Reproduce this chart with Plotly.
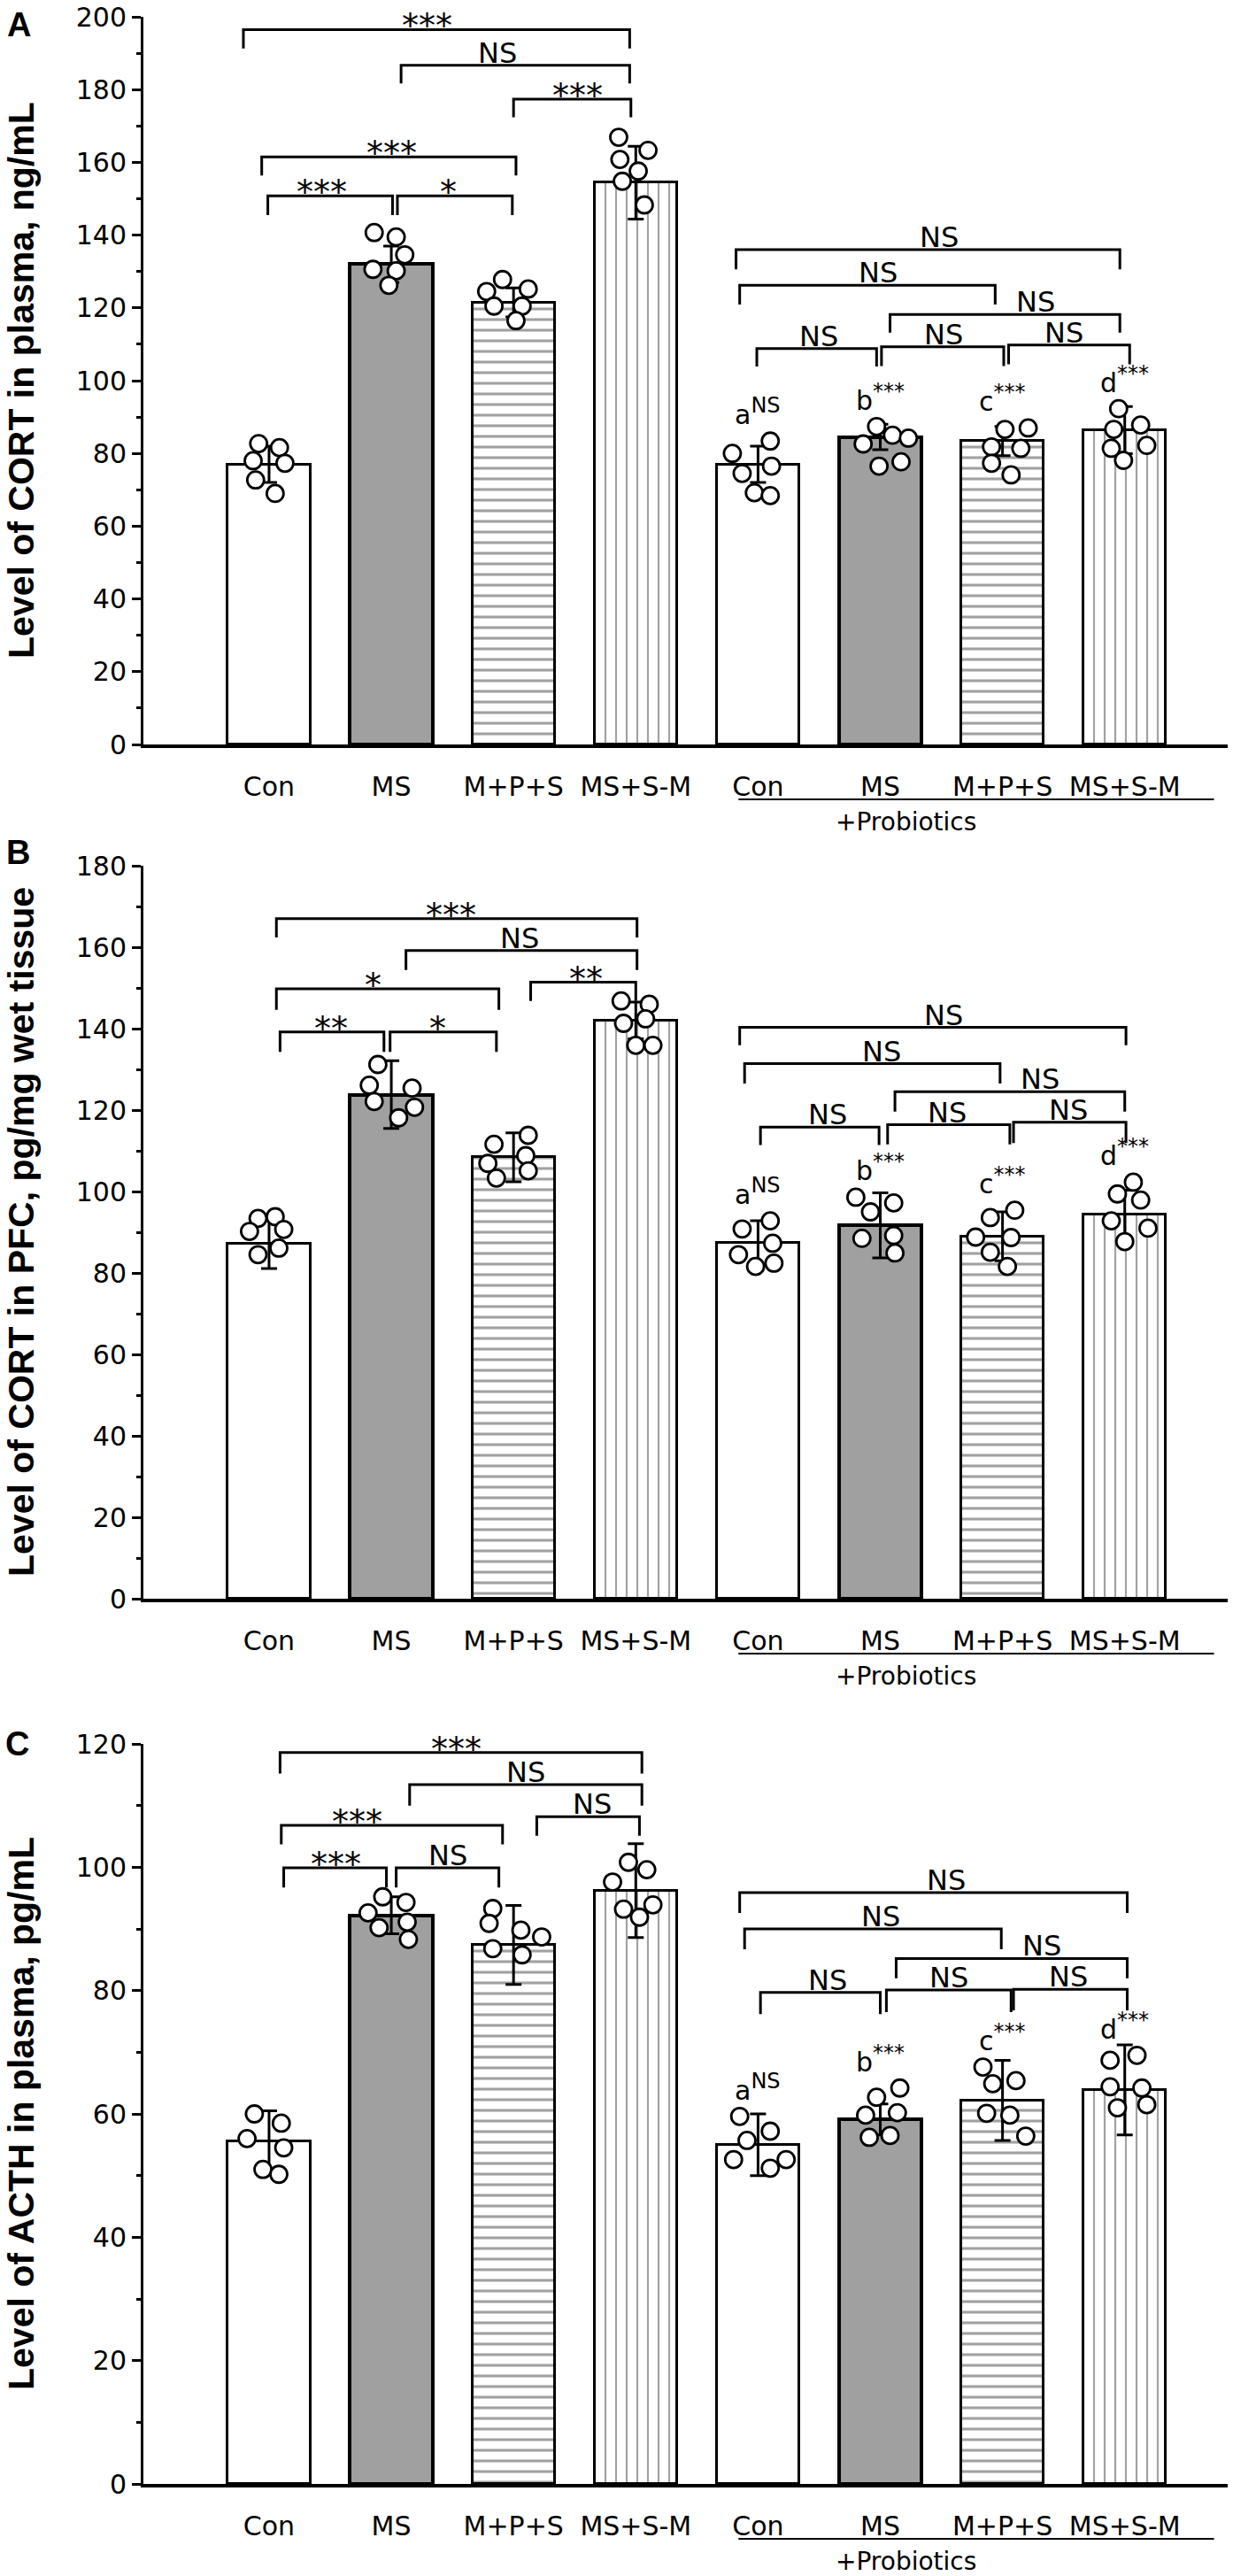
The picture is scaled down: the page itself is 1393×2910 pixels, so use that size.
import plotly.graph_objects as go

W, H = 1393, 2910
ML, MR, MT, MB = 162, 6, 19, 104
XR = [-1.028, 7.842]

groups = ["Con", "MS", "M+P+S", "MS+S-M", "Con", "MS", "M+P+S", "MS+S-M"]

# A: CORT in plasma (ng/mL)
cort_plasma_mean = [77.0, 132.0, 121.5, 154.4, 77.0, 84.5, 83.4, 86.4]
cort_plasma_sd = [5.0, 5.0, 4.0, 10.0, 5.0, 3.5, 4.0, 6.5]
cort_plasma_pts = [
    [82.7, 81.6, 78.0, 77.3, 72.7, 69.0],
    [140.7, 139.5, 134.6, 130.6, 130.2, 126.2],
    [127.8, 124.5, 125.2, 120.5, 120.5, 116.5],
    [166.9, 163.3, 160.8, 157.6, 154.8, 148.3],
    [80.0, 74.5, 83.4, 76.5, 69.2, 68.4],
    [82.6, 87.4, 85.0, 84.2, 76.5, 77.7],
    [86.6, 87.0, 81.8, 81.4, 77.3, 74.1],
    [92.3, 86.6, 87.8, 82.2, 81.4, 78.1],
]
cort_plasma_jit = [
    [-0.085, 0.085, -0.13, 0.13, -0.11, 0.05],
    [-0.14, 0.04, 0.11, -0.15, 0.04, -0.02],
    [-0.09, -0.22, 0.12, -0.16, 0.07, 0.02],
    [-0.14, 0.10, -0.13, 0.02, -0.11, 0.07],
    [-0.21, -0.13, 0.10, 0.11, -0.03, 0.10],
    [-0.14, -0.03, 0.10, 0.23, -0.01, 0.17],
    [0.02, 0.21, -0.09, 0.15, -0.09, 0.07],
    [-0.05, -0.09, 0.13, 0.18, -0.11, -0.01],
]
# (left end, right end, bar level, leg bottom, label, label x)
cort_plasma_sig = [
    (-0.21, 2.95, 196.5, 191.3, "***", 1.29),
    (1.08, 2.95, 186.7, 181.7, "NS", 1.87),
    (2.00, 2.96, 177.4, 172.4, "***", 2.52),
    (-0.06, 2.02, 161.5, 156.4, "***", 1.00),
    (-0.01, 1.01, 150.8, 145.5, "***", 0.43),
    (1.05, 1.99, 150.8, 145.5, "*", 1.47),
    (3.82, 6.96, 136.0, 130.6, "NS", 5.48),
    (3.85, 5.94, 126.2, 120.9, "NS", 4.98),
    (5.08, 6.96, 118.2, 113.2, "NS", 6.27),
    (3.99, 4.97, 108.8, 103.9, "NS", 4.50),
    (5.01, 6.01, 109.3, 104.0, "NS", 5.52),
    (6.05, 7.04, 109.8, 104.5, "NS", 6.50),
]

# B: CORT in PFC (pg/mg wet tissue)
cort_pfc_mean = [87.1, 123.8, 108.4, 142.0, 87.4, 91.7, 89.0, 94.3]
cort_pfc_sd = [6.0, 8.3, 6.0, 4.5, 5.4, 8.0, 6.0, 6.0]
cort_pfc_pts = [
    [93.4, 93.8, 90.2, 90.7, 84.5, 86.1],
    [131.2, 126.1, 125.4, 122.1, 120.7, 118.1],
    [111.6, 113.8, 106.9, 108.8, 103.3, 105.1],
    [146.8, 146.0, 141.3, 142.4, 135.9, 135.9],
    [90.8, 92.8, 87.3, 84.5, 81.6, 82.4],
    [98.6, 95.0, 97.2, 88.5, 89.2, 84.9],
    [93.6, 95.4, 88.8, 88.7, 85.1, 81.6],
    [102.3, 99.4, 97.9, 92.8, 91.0, 87.7],
]
cort_pfc_jit = [
    [-0.09, 0.05, -0.16, 0.12, -0.09, 0.08],
    [-0.11, -0.18, 0.17, -0.14, 0.19, 0.06],
    [-0.16, 0.12, -0.21, 0.10, -0.14, 0.12],
    [-0.12, 0.11, -0.10, 0.08, 0.00, 0.14],
    [-0.13, 0.10, 0.12, -0.16, -0.02, 0.13],
    [-0.20, -0.08, 0.11, -0.15, 0.11, 0.12],
    [-0.10, 0.10, -0.22, 0.07, -0.10, 0.04],
    [0.07, -0.06, 0.13, -0.11, 0.19, 0.00],
]
cort_pfc_sig = [
    (0.06, 3.01, 167.0, 162.4, "***", 1.49),
    (1.12, 3.01, 159.2, 154.4, "NS", 2.05),
    (0.06, 1.88, 149.8, 144.6, "*", 0.85),
    (2.14, 3.00, 151.4, 146.8, "**", 2.59),
    (0.09, 0.94, 139.2, 134.3, "**", 0.51),
    (0.99, 1.86, 139.2, 134.3, "*", 1.38),
    (3.85, 7.01, 140.3, 135.9, "NS", 5.52),
    (3.89, 5.98, 131.4, 126.5, "NS", 5.01),
    (5.12, 7.00, 124.5, 119.6, "NS", 6.31),
    (4.02, 4.99, 115.8, 111.4, "NS", 4.57),
    (5.06, 6.06, 116.4, 111.6, "NS", 5.55),
    (6.09, 7.01, 117.0, 111.9, "NS", 6.54),
]

# C: ACTH in plasma (pg/mL)
acth_mean = [55.5, 92.2, 87.4, 96.2, 55.0, 59.1, 62.2, 63.9]
acth_sd = [5.0, 3.0, 6.4, 7.6, 5.0, 2.5, 6.5, 7.3]
acth_pts = [
    [60.0, 58.5, 56.0, 54.5, 51.0, 50.2],
    [92.6, 95.2, 94.3, 90.2, 91.1, 88.3],
    [93.3, 90.9, 89.8, 88.7, 86.8, 85.8],
    [100.8, 99.6, 97.6, 93.2, 93.9, 91.9],
    [59.6, 57.2, 55.7, 52.6, 51.2, 52.6],
    [62.7, 64.2, 59.8, 60.2, 56.2, 56.5],
    [67.6, 64.9, 65.4, 60.1, 59.8, 56.4],
    [68.7, 69.5, 64.4, 64.2, 61.0, 61.5],
]
acth_jit = [
    [-0.12, 0.10, -0.18, 0.12, -0.05, 0.08],
    [-0.19, -0.07, 0.12, -0.10, 0.13, 0.14],
    [-0.17, -0.20, 0.06, 0.23, -0.17, 0.07],
    [-0.06, 0.09, -0.19, -0.10, 0.14, 0.03],
    [-0.15, 0.10, -0.09, -0.20, 0.10, 0.23],
    [-0.03, 0.16, -0.12, 0.14, -0.09, 0.08],
    [-0.16, -0.08, 0.11, -0.13, 0.06, 0.19],
    [-0.12, 0.10, -0.12, 0.14, -0.06, 0.18],
]
acth_sig = [
    (0.09, 3.05, 118.6, 115.2, "***", 1.53),
    (1.15, 3.05, 113.4, 110.0, "NS", 2.10),
    (2.19, 3.03, 108.2, 105.1, "NS", 2.64),
    (0.10, 1.91, 106.8, 103.7, "***", 0.72),
    (0.12, 0.96, 99.9, 96.7, "***", 0.55),
    (1.04, 1.88, 99.9, 96.7, "NS", 1.46),
    (3.85, 7.02, 95.9, 92.6, "NS", 5.54),
    (3.89, 5.99, 90.0, 86.7, "NS", 5.00),
    (5.13, 7.02, 85.2, 82.0, "NS", 6.32),
    (4.02, 5.00, 79.7, 76.2, "NS", 4.57),
    (5.05, 6.07, 80.1, 76.5, "NS", 5.56),
    (6.09, 7.02, 80.2, 76.8, "NS", 6.54),
]

probiotic_marks = ["a", "b", "c", "d"]
probiotic_sig = ["NS", "***", "***", "***"]

PW = W - ML - MR
PH = H - MT - MB


def px_x(px):
    return (px - ML) / PW


def px_y(py):
    return (H - MB - py) / PH


def data_x(v):
    return (v - XR[0]) / (XR[1] - XR[0])


# panel frames in page pixels: (zero line, top of axis)
frames = [(841, MT), (1806, 978), (H - MB, 1970)]

panels = [
    dict(letter="A", title="Level of CORT in plasma, ng/mL", top=200,
         mean=cort_plasma_mean, sd=cort_plasma_sd, pts=cort_plasma_pts, jit=cort_plasma_jit,
         sig=cort_plasma_sig, letter_px=(21, 28)),
    dict(letter="B", title="Level of CORT in PFC, pg/mg wet tissue", top=180,
         mean=cort_pfc_mean, sd=cort_pfc_sd, pts=cort_pfc_pts, jit=cort_pfc_jit,
         sig=cort_pfc_sig, letter_px=(20, 963)),
    dict(letter="C", title="Level of ACTH in plasma, pg/mL", top=120,
         mean=acth_mean, sd=acth_sd, pts=acth_pts, jit=acth_jit,
         sig=acth_sig, letter_px=(19, 1970)),
]

fills = ["white", "#a0a0a0", "white", "white"] * 2
hatch = ["", "", "-", "|"] * 2
hatch_solid = [0.2, 0.2, 0.26, 0.18] * 2
outline = [3, 4, 3, 3] * 2

TICKFONT = dict(family="DejaVu Sans", size=30, color="black")

fig = go.Figure()
annotations, shapes, axes = [], [], {}

for k, p in enumerate(panels):
    n = "" if k == 0 else str(k + 1)
    xa, ya = "x" + n, "y" + n
    zero_px, top_px = frames[k]
    dom = [max(0.0, px_y(zero_px)), min(1.0, px_y(top_px))]

    fig.add_trace(go.Bar(
        x=list(range(len(groups))), y=p["mean"], width=0.675, xaxis=xa, yaxis=ya,
        marker=dict(color=fills, line=dict(color="black", width=outline),
                    pattern=dict(shape=hatch, fgcolor="black", bgcolor="white",
                                 size=12, solidity=hatch_solid)),
        error_y=dict(type="data", array=p["sd"], color="black", thickness=3, width=9),
        showlegend=False, hoverinfo="skip"))

    xs, ys = [], []
    for i, (vals, jit) in enumerate(zip(p["pts"], p["jit"])):
        xs += [i + j for j in jit]
        ys += vals
    fig.add_trace(go.Scatter(
        x=xs, y=ys, mode="markers", xaxis=xa, yaxis=ya, cliponaxis=False,
        marker=dict(size=19, color="white", line=dict(color="black", width=2.8)),
        showlegend=False, hoverinfo="skip"))

    axes["xaxis" + n] = dict(
        domain=[0, 1], anchor=ya, range=XR, tickvals=list(range(len(groups))), ticktext=groups,
        showline=True, linewidth=4, linecolor="black", ticks="outside", ticklen=18,
        tickcolor="rgba(0,0,0,0)", tickfont=TICKFONT, showgrid=False, zeroline=False,
        automargin=False)
    axes["yaxis" + n] = dict(
        domain=dom, anchor=xa, range=[0, p["top"]], dtick=20,
        showline=True, linewidth=3, linecolor="black", ticks="outside", ticklen=10,
        tickwidth=3, tickcolor="black", tickfont=TICKFONT, showgrid=False, zeroline=False,
        automargin=False, ticklabeloverflow="allow",
        minor=dict(ticks="outside", ticklen=5, tickwidth=3, tickcolor="black", dtick=10))

    # significance brackets
    for x0, x1, yb, yl, lab, lx in p["sig"]:
        shapes.append(dict(type="path", xref=xa, yref=ya,
                           path=f"M {x0},{yl} L {x0},{yb} L {x1},{yb} L {x1},{yl}",
                           line=dict(color="black", width=3)))
        star = lab.startswith("*")
        annotations.append(dict(
            x=lx, y=yb, xref=xa, yref=ya, text=lab, showarrow=False,
            yanchor="middle", yshift=4 if star else 14,
            font=dict(family="DejaVu Sans", size=38 if star else 32, color="black")))

    # probiotics group letters
    for j, (letter, s) in enumerate(zip(probiotic_marks, probiotic_sig)):
        i = 4 + j
        annotations.append(dict(
            x=i, y=max(p["pts"][i]), xref=xa, yref=ya,
            text=f"{letter}<sup><span style='font-size:24px'>{s}</span></sup>",
            showarrow=False, yanchor="bottom", yshift=10,
            font=dict(family="DejaVu Sans", size=30, color="black")))

    # +Probiotics underline and label
    shapes.append(dict(type="line", xref="paper", yref="paper",
                       x0=data_x(3.84), x1=data_x(7.73),
                       y0=px_y(zero_px + 62), y1=px_y(zero_px + 62),
                       line=dict(color="black", width=2)))
    annotations.append(dict(x=data_x(5.8), y=px_y(zero_px + 87), xref="paper", yref="paper",
                            text="+Probiotics", showarrow=False, yanchor="middle",
                            font=dict(family="DejaVu Sans", size=28, color="black")))

    # y title and panel letter
    annotations.append(dict(
        x=px_x(24), y=sum(dom) / 2, xref="paper", yref="paper", textangle=-90,
        text="<b>" + p["title"] + "</b>", showarrow=False, xanchor="center", yanchor="middle",
        font=dict(family="Liberation Sans", size=41, color="black")))
    lx, ly = p["letter_px"]
    annotations.append(dict(
        x=px_x(lx), y=px_y(ly), xref="paper", yref="paper", text="<b>" + p["letter"] + "</b>",
        showarrow=False, xanchor="center", yanchor="middle",
        font=dict(family="Liberation Sans", size=38, color="black")))

fig.update_layout(
    width=W, height=H, margin=dict(l=ML, r=MR, t=MT, b=MB, pad=0, autoexpand=False),
    plot_bgcolor="white", paper_bgcolor="white", bargap=0,
    annotations=annotations, shapes=shapes, **axes)

fig.write_html("out.html", config={"displayModeBar": False},
               post_script="document.body.style.margin='0';")
